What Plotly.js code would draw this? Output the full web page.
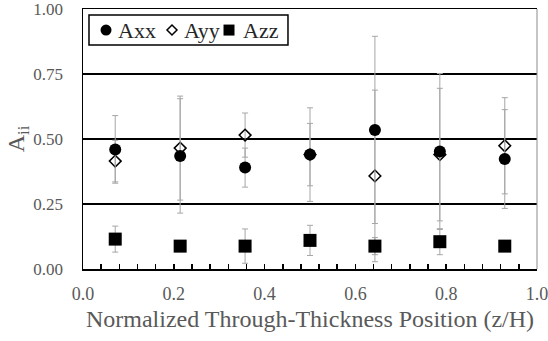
<!DOCTYPE html>
<html><head><meta charset="utf-8">
<script src="https://cdn.plot.ly/plotly-3.0.1.min.js"></script>
<style>html,body{margin:0;padding:0;background:#fff;}#c{width:548px;height:341px;}</style>
</head><body><div id="c"></div>
<script>
const positions = [0.071, 0.214, 0.357, 0.5, 0.643, 0.786, 0.929];
const seriesNames = ['Axx', 'Ayy', 'Azz'];
const axx = [0.46, 0.435, 0.39, 0.44, 0.535, 0.452, 0.423];
const axxErr = [0.13, 0.22, 0.075, 0.12, 0.36, 0.30, 0.19];
const ayy = [0.415, 0.465, 0.515, 0.44, 0.358, 0.44, 0.474];
const ayyErr = [0.08, 0.20, 0.085, 0.18, 0.33, 0.255, 0.185];
const azz = [0.115, 0.088, 0.088, 0.11, 0.088, 0.105, 0.088];
const azzErr = [0.05, 0.02, 0.066, 0.058, 0.033, 0.05, 0.02];

const errStyle = (arr) => ({type:'data', array:arr, visible:true, color:'#a6a6a6', thickness:1, width:3});
const font = 'Liberation Serif';

// Ayy drawn first so Axx circles sit on top of it
const traces = [
  {x:positions, y:ayy, name:seriesNames[1], mode:'markers', type:'scatter',
   marker:{symbol:'diamond-open', size:9, color:'#000', line:{width:1.5, color:'#000'}}, error_y:errStyle(ayyErr)},
  {x:positions, y:axx, name:seriesNames[0], mode:'markers', type:'scatter',
   marker:{symbol:'circle', size:12, color:'#000'}, error_y:errStyle(axxErr)},
  {x:positions, y:azz, name:seriesNames[2], mode:'markers', type:'scatter',
   marker:{symbol:'square', size:13, color:'#000'}, error_y:errStyle(azzErr)}
];

// hand-built legend (box, symbols, labels) in paper coordinates
const lgY = 0.919;
const symX = [0.0507, 0.196, 0.3216];
const txtX = [0.0727, 0.218, 0.348];
const shapes = [
  {type:'line', xref:'paper', yref:'paper', x0:1, x1:1, y0:0, y1:1, line:{color:'#8c8c8c', width:1}},
  {type:'rect', xref:'paper', yref:'paper', x0:0.0132, x1:0.4515, y0:0.8615, y1:0.977,
   line:{color:'#000', width:1.5}, fillcolor:'#fff', layer:'above'},
  {type:'circle', xref:'paper', yref:'paper', xsizemode:'pixel', ysizemode:'pixel',
   xanchor:symX[0], yanchor:lgY, x0:-5.5, x1:5.5, y0:-5.5, y1:5.5,
   fillcolor:'#000', line:{width:0}, layer:'above'},
  {type:'path', xref:'paper', yref:'paper', xsizemode:'pixel', ysizemode:'pixel',
   xanchor:symX[1], yanchor:lgY, path:'M0,5 L5,0 L0,-5 L-5,0 Z',
   fillcolor:'#fff', line:{color:'#000', width:1.5}, layer:'above'},
  {type:'rect', xref:'paper', yref:'paper', xsizemode:'pixel', ysizemode:'pixel',
   xanchor:symX[2], yanchor:lgY, x0:-5.5, x1:5.5, y0:-5.5, y1:5.5,
   fillcolor:'#000', line:{width:0}, layer:'above'}
];
const annotations = seriesNames.map((n, i) => ({
  text:n, xref:'paper', yref:'paper', x:txtX[i], y:lgY, xanchor:'left', yanchor:'middle',
  showarrow:false, font:{family:font, size:22, color:'#262626'}
}));

const layout = {
  width:548, height:341,
  margin:{l:83, r:11, t:9, b:72},
  paper_bgcolor:'#fff', plot_bgcolor:'#fff',
  font:{family:font, color:'#595959', size:17},
  showlegend:false,
  shapes:shapes, annotations:annotations,
  xaxis:{range:[0,1], dtick:0.2, tickformat:'.1f', showgrid:false, zeroline:false,
    showline:true, linecolor:'#000', linewidth:1.5, mirror:true,
    ticks:'inside', ticklen:5, tickcolor:'#000', tickwidth:1.5,
    minor:{dtick:0.04, ticks:'inside', ticklen:5, tickcolor:'#000', tickwidth:1.5, showgrid:false},
    ticklabelstandoff:8, ticklabeloverflow:'allow',
    tickfont:{family:font, size:18, color:'#595959'},
    title:{text:'Normalized Through-Thickness Position (z/H)', font:{family:font, size:24, color:'#595959'}, standoff:7}},
  yaxis:{range:[0,1], dtick:0.25, tickformat:'.2f', showgrid:true, gridcolor:'#000', gridwidth:1.5,
    zeroline:false, showline:true, linecolor:'#000', linewidth:1.5, mirror:false, ticks:'',
    ticklabelstandoff:15, ticklabeloverflow:'allow',
    tickfont:{family:font, size:17, color:'#595959'},
    title:{text:'A<sub>ii</sub>', font:{family:font, size:24, color:'#595959'}, standoff:0}}
};
Plotly.newPlot('c', traces, layout, {displayModeBar:false, staticPlot:true});
</script></body></html>
